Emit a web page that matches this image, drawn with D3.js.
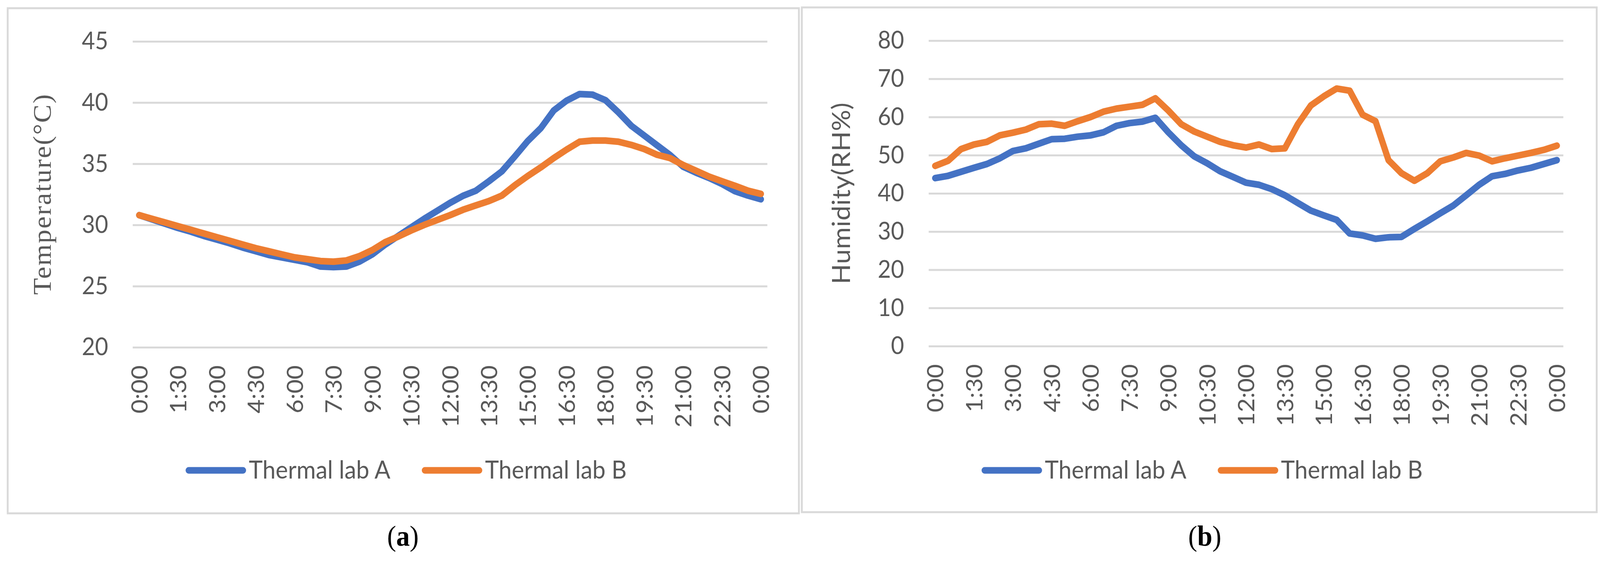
<!DOCTYPE html>
<html>
<head>
<meta charset="utf-8">
<script src="https://cdn.jsdelivr.net/npm/d3@7"></script>
<style>
  html, body { margin: 0; padding: 0; background: #fff; overflow: hidden; }
  .graph svg { display: block; width: 100vw; height: 100vh; }
  svg text { fill: #595959; }
</style>
</head>
<body>
<div class="graph"></div>
<script>

// half-hourly categories, 0:00 to 0:00 next day
const times = ['0:00','0:30','1:00','1:30','2:00','2:30','3:00','3:30','4:00','4:30',
	'5:00','5:30','6:00','6:30','7:00','7:30','8:00','8:30','9:00','9:30',
	'10:00','10:30','11:00','11:30','12:00','12:30','13:00','13:30','14:00','14:30',
	'15:00','15:30','16:00','16:30','17:00','17:30','18:00','18:30','19:00','19:30',
	'20:00','20:30','21:00','21:30','22:00','22:30','23:00','23:30','0:00'];

// only every third category gets a label
const labelIndex = [0,3,6,9,12,15,18,21,24,27,30,33,36,39,42,45,48];

const tempA = [30.8,30.45,30.1,29.75,29.45,29.1,28.8,28.5,28.15,27.85,
	27.55,27.35,27.15,26.95,26.6,26.55,26.6,27.0,27.6,28.4,
	29.1,29.8,30.5,31.15,31.8,32.38,32.8,33.57,34.38,35.6,
	36.86,37.9,39.35,40.16,40.7,40.65,40.2,39.2,38.1,37.3,
	36.5,35.7,34.76,34.27,33.84,33.35,32.76,32.4,32.1];

const tempB = [30.8,30.5,30.2,29.9,29.6,29.3,29.0,28.7,28.4,28.1,
	27.85,27.6,27.35,27.2,27.05,27.0,27.1,27.45,27.95,28.6,
	29.05,29.55,30.0,30.4,30.8,31.24,31.6,31.95,32.4,33.24,
	34.0,34.7,35.46,36.16,36.8,36.9,36.9,36.8,36.54,36.2,
	35.73,35.46,34.9,34.43,33.95,33.57,33.2,32.8,32.54];

const humA = [44.0,44.6,45.65,46.7,47.7,49.2,51.1,51.8,53.0,54.2,
	54.3,54.85,55.2,56.0,57.7,58.4,58.8,59.8,56.0,52.6,
	49.7,47.9,45.8,44.3,42.8,42.25,41.1,39.5,37.5,35.5,
	34.25,33.05,29.5,29.0,28.1,28.5,28.6,30.7,32.7,34.8,
	36.8,39.5,42.25,44.5,45.1,46.0,46.7,47.7,48.7];

const humB = [47.2,48.55,51.6,52.8,53.5,55.2,55.9,56.7,58.1,58.25,
	57.7,58.9,60.0,61.4,62.2,62.7,63.2,64.9,61.7,58.1,
	56.2,54.85,53.5,52.6,52.0,52.8,51.6,51.8,58.1,63.0,
	65.4,67.45,66.9,60.6,58.9,48.7,45.3,43.3,45.3,48.4,
	49.4,50.6,49.9,48.4,49.2,49.9,50.6,51.4,52.5];

const tempTicks = [20,25,30,35,40,45];
const humTicks = [0,10,20,30,40,50,60,70,80];

const seriesNames = ['Thermal lab A', 'Thermal lab B'];
const COLORS = ['#4472C4', '#ED7D31'];

const SANS = 'Lato, "Noto Sans", sans-serif';
const SERIF = '"Liberation Serif", "DejaVu Serif", serif';

// drawn in a fixed 4364x1436 coordinate space, stretched to the window
var svg = d3.select('.graph')
	.append('svg')
		.attr('viewBox', '0 0 4364 1436')
		.attr('preserveAspectRatio', 'none');

function drawPanel(p) {

	var g = svg.append('g');

	// chart frame
	g.append('rect')
		.attr('x', p.box.x).attr('y', p.box.y)
		.attr('width', p.box.w).attr('height', p.box.h)
		.attr('fill', 'none')
		.attr('stroke', '#D9D9D9')
		.attr('stroke-width', 5);

	var x = d3.scalePoint()
		.domain(d3.range(times.length))
		.range([p.left, p.right])
		.padding(0.5);

	var y = d3.scaleLinear()
		.domain(p.domain)
		.range([p.bottom, p.top]);

	// y axis, ticks stretched into gridlines
	var yAxis = g.append('g')
		.attr('transform', 'translate(' + p.left + ',0)')
		.call(d3.axisLeft(y)
			.tickValues(p.ticks)
			.tickSize(-(p.right - p.left))
			.tickPadding(67));
	yAxis.select('.domain').remove();
	yAxis.selectAll('line')
		.attr('stroke', '#D9D9D9')
		.attr('stroke-width', 5);
	yAxis.selectAll('text')
		.attr('fill', '#595959')
		.style('font-family', SANS)
		.style('font-size', '62px');

	// x axis labels, rotated
	var xAxis = g.append('g')
		.attr('transform', 'translate(0,' + p.bottom + ')')
		.call(d3.axisBottom(x)
			.tickValues(labelIndex)
			.tickFormat(function(i) { return times[i]; })
			.tickSize(0));
	xAxis.select('.domain').remove();
	xAxis.selectAll('text')
		.attr('transform', 'rotate(-90)')
		.attr('x', -46)
		.attr('y', 0)
		.attr('dy', '0.36em')
		.attr('text-anchor', 'end')
		.attr('fill', '#595959')
		.style('font-family', SANS)
		.style('font-size', '62px');

	// series
	var line = d3.line()
		.x(function(d, i) { return x(i); })
		.y(function(d) { return y(d); });

	[p.seriesA, p.seriesB].forEach(function(data, k) {
		g.append('path')
			.datum(data)
			.attr('fill', 'none')
			.attr('stroke', COLORS[k])
			.attr('stroke-width', 17)
			.attr('stroke-linejoin', 'round')
			.attr('stroke-linecap', 'round')
			.attr('d', line);
	});

	// axis title
	g.append('text')
		.attr('transform', 'translate(' + p.titleX + ',' + p.titleY + ') rotate(-90)')
		.attr('text-anchor', 'middle')
		.attr('textLength', p.titleLen)
		.style('font-family', p.titleFont)
		.style('font-size', p.titleSize + 'px')
		.text(p.title);

	// legend, centred under the plot
	var legend = g.append('g');
	var cursor = 0;
	seriesNames.forEach(function(name, k) {
		if (k > 0) cursor += 86;
		legend.append('line')
			.attr('x1', cursor + 8).attr('x2', cursor + 156)
			.attr('y1', 0).attr('y2', 0)
			.attr('stroke', COLORS[k])
			.attr('stroke-width', 17)
			.attr('stroke-linecap', 'round');
		var t = legend.append('text')
			.attr('x', cursor + 172)
			.attr('y', 0)
			.attr('dy', '0.33em')
			.style('font-family', SANS)
			.style('font-size', '64px')
			.text(name);
		cursor += 172 + t.node().getComputedTextLength();
	});
	legend.attr('transform', 'translate(' + (p.legendCenter - cursor / 2) + ',1204)');

	// panel caption
	var cap = g.append('text')
		.attr('x', p.captionX)
		.attr('y', 1397)
		.attr('text-anchor', 'middle')
		.style('font-family', SERIF)
		.style('font-size', '74px')
		.style('fill', '#000');
	cap.append('tspan').text('(');
	cap.append('tspan').style('font-weight', 'bold').text(p.caption);
	cap.append('tspan').text(')');
}

drawPanel({
	box: {x: 21, y: 21, w: 2158, h: 1293},
	left: 362, right: 2093, top: 106, bottom: 889,
	domain: [20, 45], ticks: tempTicks,
	seriesA: tempA, seriesB: tempB,
	title: 'Temperature(°C)', titleFont: SERIF, titleSize: 70,
	titleX: 138, titleY: 498, titleLen: 513,
	legendCenter: 1108,
	caption: 'a', captionX: 1099
});

drawPanel({
	box: {x: 2187, y: 19, w: 2168, h: 1292},
	left: 2533, right: 4264, top: 104, bottom: 886,
	domain: [0, 80], ticks: humTicks,
	seriesA: humA, seriesB: humB,
	title: 'Humidity(RH%)', titleFont: SANS, titleSize: 68,
	titleX: 2318, titleY: 495, titleLen: 465,
	legendCenter: 3279,
	caption: 'b', captionX: 3286
});

</script>
</body>
</html>
